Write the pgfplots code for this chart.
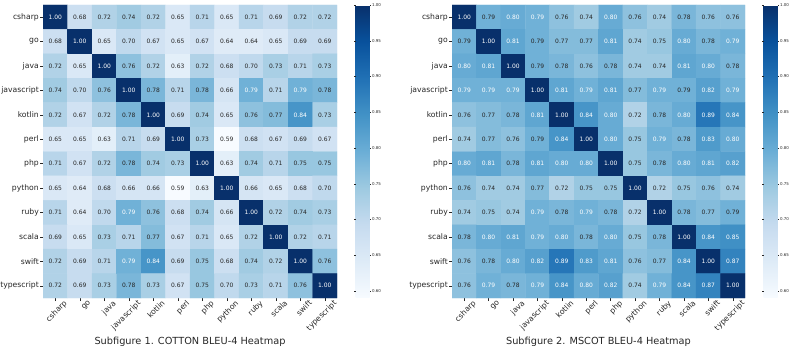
\documentclass[border=0pt]{standalone}
\usepackage{pgfplots}
\pgfplotsset{compat=1.18}
\usepackage{pgfplotstable}
\usepackage{fontspec}
\setmainfont{DejaVu Sans}
\definecolor{darktxt}{HTML}{262626}
\pgfplotsset{colormap={blues}{rgb255=(247,251,255) rgb255=(222,235,247) rgb255=(198,219,239) rgb255=(158,202,225) rgb255=(107,174,214) rgb255=(66,146,198) rgb255=(33,113,181) rgb255=(8,81,156) rgb255=(8,48,107)}}

% c = 1: white text, c = 0: dark text
\pgfplotstableread{
x y v c
0 11 1.00 1
1 11 0.68 0
2 11 0.72 0
3 11 0.74 0
4 11 0.72 0
5 11 0.65 0
6 11 0.71 0
7 11 0.65 0
8 11 0.71 0
9 11 0.69 0
10 11 0.72 0
11 11 0.72 0
0 10 0.68 0
1 10 1.00 1
2 10 0.65 0
3 10 0.70 0
4 10 0.67 0
5 10 0.65 0
6 10 0.67 0
7 10 0.64 0
8 10 0.64 0
9 10 0.65 0
10 10 0.69 0
11 10 0.69 0
0 9 0.72 0
1 9 0.65 0
2 9 1.00 1
3 9 0.76 0
4 9 0.72 0
5 9 0.63 0
6 9 0.72 0
7 9 0.68 0
8 9 0.70 0
9 9 0.73 0
10 9 0.71 0
11 9 0.73 0
0 8 0.74 0
1 8 0.70 0
2 8 0.76 0
3 8 1.00 1
4 8 0.78 0
5 8 0.71 0
6 8 0.78 0
7 8 0.66 0
8 8 0.79 1
9 8 0.71 0
10 8 0.79 1
11 8 0.78 0
0 7 0.72 0
1 7 0.67 0
2 7 0.72 0
3 7 0.78 0
4 7 1.00 1
5 7 0.69 0
6 7 0.74 0
7 7 0.65 0
8 7 0.76 0
9 7 0.77 0
10 7 0.84 1
11 7 0.73 0
0 6 0.65 0
1 6 0.65 0
2 6 0.63 0
3 6 0.71 0
4 6 0.69 0
5 6 1.00 1
6 6 0.73 0
7 6 0.59 0
8 6 0.68 0
9 6 0.67 0
10 6 0.69 0
11 6 0.67 0
0 5 0.71 0
1 5 0.67 0
2 5 0.72 0
3 5 0.78 0
4 5 0.74 0
5 5 0.73 0
6 5 1.00 1
7 5 0.63 0
8 5 0.74 0
9 5 0.71 0
10 5 0.75 0
11 5 0.75 0
0 4 0.65 0
1 4 0.64 0
2 4 0.68 0
3 4 0.66 0
4 4 0.66 0
5 4 0.59 0
6 4 0.63 0
7 4 1.00 1
8 4 0.66 0
9 4 0.65 0
10 4 0.68 0
11 4 0.70 0
0 3 0.71 0
1 3 0.64 0
2 3 0.70 0
3 3 0.79 1
4 3 0.76 0
5 3 0.68 0
6 3 0.74 0
7 3 0.66 0
8 3 1.00 1
9 3 0.72 0
10 3 0.74 0
11 3 0.73 0
0 2 0.69 0
1 2 0.65 0
2 2 0.73 0
3 2 0.71 0
4 2 0.77 0
5 2 0.67 0
6 2 0.71 0
7 2 0.65 0
8 2 0.72 0
9 2 1.00 1
10 2 0.72 0
11 2 0.71 0
0 1 0.72 0
1 1 0.69 0
2 1 0.71 0
3 1 0.79 1
4 1 0.84 1
5 1 0.69 0
6 1 0.75 0
7 1 0.68 0
8 1 0.74 0
9 1 0.72 0
10 1 1.00 1
11 1 0.76 0
0 0 0.72 0
1 0 0.69 0
2 0 0.73 0
3 0 0.78 0
4 0 0.73 0
5 0 0.67 0
6 0 0.75 0
7 0 0.70 0
8 0 0.73 0
9 0 0.71 0
10 0 0.76 0
11 0 1.00 1
}\cotton

\pgfplotstableread{
x y v c
0 11 1.00 1
1 11 0.79 0
2 11 0.80 1
3 11 0.79 1
4 11 0.76 0
5 11 0.74 0
6 11 0.80 1
7 11 0.76 0
8 11 0.74 0
9 11 0.78 0
10 11 0.76 0
11 11 0.76 0
0 10 0.79 0
1 10 1.00 1
2 10 0.81 1
3 10 0.79 0
4 10 0.77 0
5 10 0.77 0
6 10 0.81 1
7 10 0.74 0
8 10 0.75 0
9 10 0.80 1
10 10 0.78 0
11 10 0.79 1
0 9 0.80 1
1 9 0.81 1
2 9 1.00 1
3 9 0.79 0
4 9 0.78 0
5 9 0.76 0
6 9 0.78 0
7 9 0.74 0
8 9 0.74 0
9 9 0.81 1
10 9 0.80 1
11 9 0.78 0
0 8 0.79 1
1 8 0.79 1
2 8 0.79 1
3 8 1.00 1
4 8 0.81 1
5 8 0.79 1
6 8 0.81 1
7 8 0.77 0
8 8 0.79 1
9 8 0.79 0
10 8 0.82 1
11 8 0.79 1
0 7 0.76 0
1 7 0.77 0
2 7 0.78 0
3 7 0.81 1
4 7 1.00 1
5 7 0.84 1
6 7 0.80 1
7 7 0.72 0
8 7 0.78 0
9 7 0.80 1
10 7 0.89 1
11 7 0.84 1
0 6 0.74 0
1 6 0.77 0
2 6 0.76 0
3 6 0.79 0
4 6 0.84 1
5 6 1.00 1
6 6 0.80 1
7 6 0.75 0
8 6 0.79 1
9 6 0.78 0
10 6 0.83 1
11 6 0.80 1
0 5 0.80 1
1 5 0.81 1
2 5 0.78 0
3 5 0.81 1
4 5 0.80 1
5 5 0.80 1
6 5 1.00 1
7 5 0.75 0
8 5 0.78 0
9 5 0.80 1
10 5 0.81 1
11 5 0.82 1
0 4 0.76 0
1 4 0.74 0
2 4 0.74 0
3 4 0.77 0
4 4 0.72 0
5 4 0.75 0
6 4 0.75 0
7 4 1.00 1
8 4 0.72 0
9 4 0.75 0
10 4 0.76 0
11 4 0.74 0
0 3 0.74 0
1 3 0.75 0
2 3 0.74 0
3 3 0.79 1
4 3 0.78 0
5 3 0.79 1
6 3 0.78 0
7 3 0.72 0
8 3 1.00 1
9 3 0.78 0
10 3 0.77 0
11 3 0.79 0
0 2 0.78 0
1 2 0.80 1
2 2 0.81 1
3 2 0.79 1
4 2 0.80 1
5 2 0.78 0
6 2 0.80 1
7 2 0.75 0
8 2 0.78 0
9 2 1.00 1
10 2 0.84 1
11 2 0.85 1
0 1 0.76 0
1 1 0.78 0
2 1 0.80 1
3 1 0.82 1
4 1 0.89 1
5 1 0.83 1
6 1 0.81 1
7 1 0.76 0
8 1 0.77 0
9 1 0.84 1
10 1 1.00 1
11 1 0.87 1
0 0 0.76 0
1 0 0.79 1
2 0 0.78 0
3 0 0.79 1
4 0 0.84 1
5 0 0.80 1
6 0 0.82 1
7 0 0.74 0
8 0 0.79 1
9 0 0.84 1
10 0 0.87 1
11 0 1.00 1
}\mscot

\pgfplotsset{
  hm/.style={
    scale only axis, width=293bp, height=293bp,
    xmin=-0.5, xmax=11.5, ymin=-0.5, ymax=11.5,
    axis line style={draw=none},
    xtick={0,...,11}, ytick={0,...,11},
    xticklabels={csharp,go,java,javascript,kotlin,perl,php,python,ruby,scala,swift,typescript},
    yticklabels={typescript,swift,scala,ruby,python,php,perl,kotlin,javascript,java,go,csharp},
    xtick pos=bottom, ytick pos=left, tick align=outside,
    major tick length=3bp,
    tick style={draw=darktxt, line width=0.5bp},
    ticklabel style={font=\fontsize{7.7}{9}\selectfont, text=darktxt},
    yticklabel style={inner sep=1bp},
    xticklabel style={xshift=8bp, yshift=3bp, rotate=45, anchor=north east, inner sep=1bp},
    xlabel style={at={(axis description cs:0.5,0)}, anchor=center, yshift=-44bp, font=\fontsize{9.8}{12}\selectfont, text=darktxt},
    colormap name=blues, point meta min=0.59, point meta max=1.0,
    colorbar,
    colorbar style={
      at={(parent axis.north east)}, anchor=north west, xshift=10bp,
      scale only axis, width=14bp, height=293bp,
      axis line style={draw=none},
      ytick={0.60,0.65,0.70,0.75,0.80,0.85,0.90,0.95,1.00},
      yticklabel={\pgfmathprintnumber[fixed,fixed zerofill,precision=2,assume math mode=true]{\tick}},
      yticklabel style={font=\fontsize{4}{5}\selectfont, text=darktxt, inner sep=0.8bp},
      major tick length=1.5bp, tick align=outside,
      tick style={draw=darktxt, line width=0.3bp},
    },
  },
  cellbase/.style={only marks, mark=none,
    point meta=\thisrow{v},
    nodes near coords={\pgfmathprintnumber[fixed,fixed zerofill,precision=2,assume math mode=true]{\pgfplotspointmeta}},
    nodes near coords align={center},
  },
  cellsdark/.style={cellbase,
    every node near coord/.append style={anchor=center, font=\fontsize{6}{7}\selectfont, text=darktxt, inner sep=0pt}},
  cellswhite/.style={cellbase,
    every node near coord/.append style={anchor=center, font=\fontsize{6}{7}\selectfont, text=white, inner sep=0pt}},
}

\begin{document}
\begin{tikzpicture}[x=1bp,y=1bp]
\useasboundingbox (0,0) rectangle (790,348);
\begin{axis}[hm, at={(43bp,50bp)}, anchor=south west, width=294bp,
  xlabel={Subfigure 1. COTTON BLEU-4 Heatmap}]
  \addplot[matrix plot*, mesh/cols=12, point meta=explicit] table[x=x, y=y, meta=v] {\cotton};
  \addplot[cellsdark, restrict expr to domain={\thisrow{c}}{-0.5:0.5}] table[x=x, y=y] {\cotton};
  \addplot[cellswhite, restrict expr to domain={\thisrow{c}}{0.5:1.5}] table[x=x, y=y] {\cotton};
\end{axis}
\begin{axis}[hm, at={(452bp,50bp)}, anchor=south west,
  xlabel={Subfigure 2. MSCOT BLEU-4 Heatmap}]
  \addplot[matrix plot*, mesh/cols=12, point meta=explicit] table[x=x, y=y, meta=v] {\mscot};
  \addplot[cellsdark, restrict expr to domain={\thisrow{c}}{-0.5:0.5}] table[x=x, y=y] {\mscot};
  \addplot[cellswhite, restrict expr to domain={\thisrow{c}}{0.5:1.5}] table[x=x, y=y] {\mscot};
\end{axis}
\end{tikzpicture}
\end{document}
